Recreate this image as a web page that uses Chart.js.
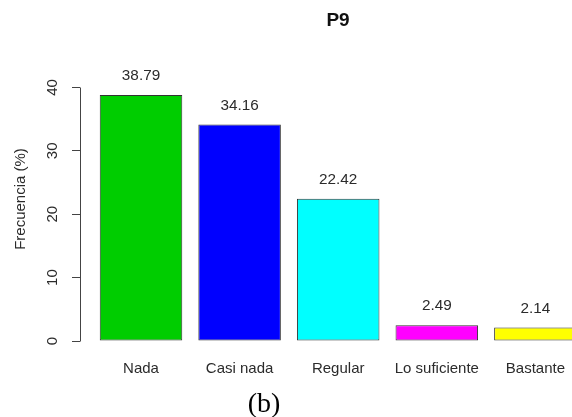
<!DOCTYPE html>
<html>
<head>
<meta charset="utf-8">
<script src="https://cdn.jsdelivr.net/npm/chart.js@4/dist/chart.umd.min.js"></script>
<style>
  html, body { margin: 0; padding: 0; background: #fff; }
  #wrap { position: relative; width: 572px; height: 417px; overflow: hidden; background: #fff; }
  #c { position: absolute; left: 0; top: 0; }
  #cap { position: absolute; left: 264px; top: 403px; transform: translate(-50%, -50%);
         font-family: "Liberation Serif", "Times New Roman", serif; font-size: 28px; line-height: 1; color: #000; white-space: nowrap; }
</style>
</head>
<body>
<div id="wrap">
  <canvas id="c" width="676" height="417" style="width:676px;height:417px"></canvas>
  <div id="cap">(b)</div>
</div>
<script>
const categories = ["Nada", "Casi nada", "Regular", "Lo suficiente", "Bastante"];
const values = [38.79, 34.16, 22.42, 2.49, 2.14];
const valueLabels = ["38.79", "34.16", "22.42", "2.49", "2.14"];
const barColors = ["#00CD00", "#0000FF", "#00FFFF", "#FF00FF", "#FFFF00"];
const yTicks = [0, 10, 20, 30, 40];
const chartTitle = "P9";
const yTitle = "Frecuencia (%)";

const FONT = "'Liberation Sans', Arial, Helvetica, sans-serif";
const TXT = "#2b2b2b";
const FS = 15;

const valueLabelPlugin = {
  id: "valueLabels",
  afterDatasetsDraw(chart) {
    const ctx = chart.ctx;
    const meta = chart.getDatasetMeta(0);
    ctx.save();
    ctx.font = "15.3px " + FONT;
    ctx.fillStyle = TXT;
    ctx.textAlign = "center";
    ctx.textBaseline = "middle";
    meta.data.forEach((el, i) => {
      ctx.fillText(valueLabels[i], el.x, el.y - 19);
    });
    ctx.restore();
  }
};

const yAxisLinePlugin = {
  id: "yAxisLine",
  afterDraw(chart) {
    const s = chart.scales.y;
    const ctx = chart.ctx;
    const x = Math.round(s.right) + 0.5;
    ctx.save();
    ctx.strokeStyle = "#444";
    ctx.lineWidth = 1;
    ctx.beginPath();
    ctx.moveTo(x, Math.round(s.getPixelForValue(yTicks[0])) + 0.5);
    ctx.lineTo(x, Math.round(s.getPixelForValue(yTicks[yTicks.length - 1])) + 0.5);
    ctx.stroke();
    ctx.restore();
  }
};

new Chart(document.getElementById("c"), {
  type: "bar",
  data: {
    datasets: [{
      data: values.map((v, i) => ({ x: i, y: v })),
      backgroundColor: barColors,
      borderColor: "#333",
      borderWidth: 1,
      borderSkipped: false,
      barPercentage: 0.837,
      categoryPercentage: 1
    }]
  },
  options: {
    responsive: false,
    devicePixelRatio: 1,
    animation: false,
    layout: { padding: 0 },
    plugins: {
      legend: { display: false },
      tooltip: { enabled: false },
      title: {
        display: true,
        text: chartTitle,
        color: "#111",
        font: { family: FONT, size: 19, weight: "bold", lineHeight: 1.2 },
        padding: { top: 9.1, bottom: 25.1 }
      }
    },
    scales: {
      x: {
        type: "linear",
        min: -0.6187,
        max: 5.426,
        offset: false,
        afterBuildTicks: s => { s.ticks = categories.map((c, i) => ({ value: i })); },
        afterFit: s => { s.height = 76; },
        grid: { display: false, drawTicks: false },
        border: { display: false },
        ticks: {
          autoSkip: false,
          maxRotation: 0,
          padding: 19.3,
          color: TXT,
          font: { family: FONT, size: FS },
          callback: v => categories[v]
        }
      },
      y: {
        min: 0,
        max: 44.8,
        afterBuildTicks: s => { s.ticks = yTicks.map(v => ({ value: v })); },
        afterFit: s => { s.width = 80; },
        border: { display: false },
        grid: { display: true, drawOnChartArea: false, drawTicks: true, tickLength: 8, color: "#444", lineWidth: 1 },
        ticks: {
          minRotation: 90,
          maxRotation: 90,
          crossAlign: "center",
          padding: 10.3,
          color: TXT,
          font: { family: FONT, size: FS }
        },
        title: {
          display: true,
          text: yTitle,
          color: TXT,
          font: { family: FONT, size: FS },
          padding: { top: 11.5, bottom: 0 }
        }
      }
    }
  },
  plugins: [valueLabelPlugin, yAxisLinePlugin]
});
</script>
</body>
</html>
